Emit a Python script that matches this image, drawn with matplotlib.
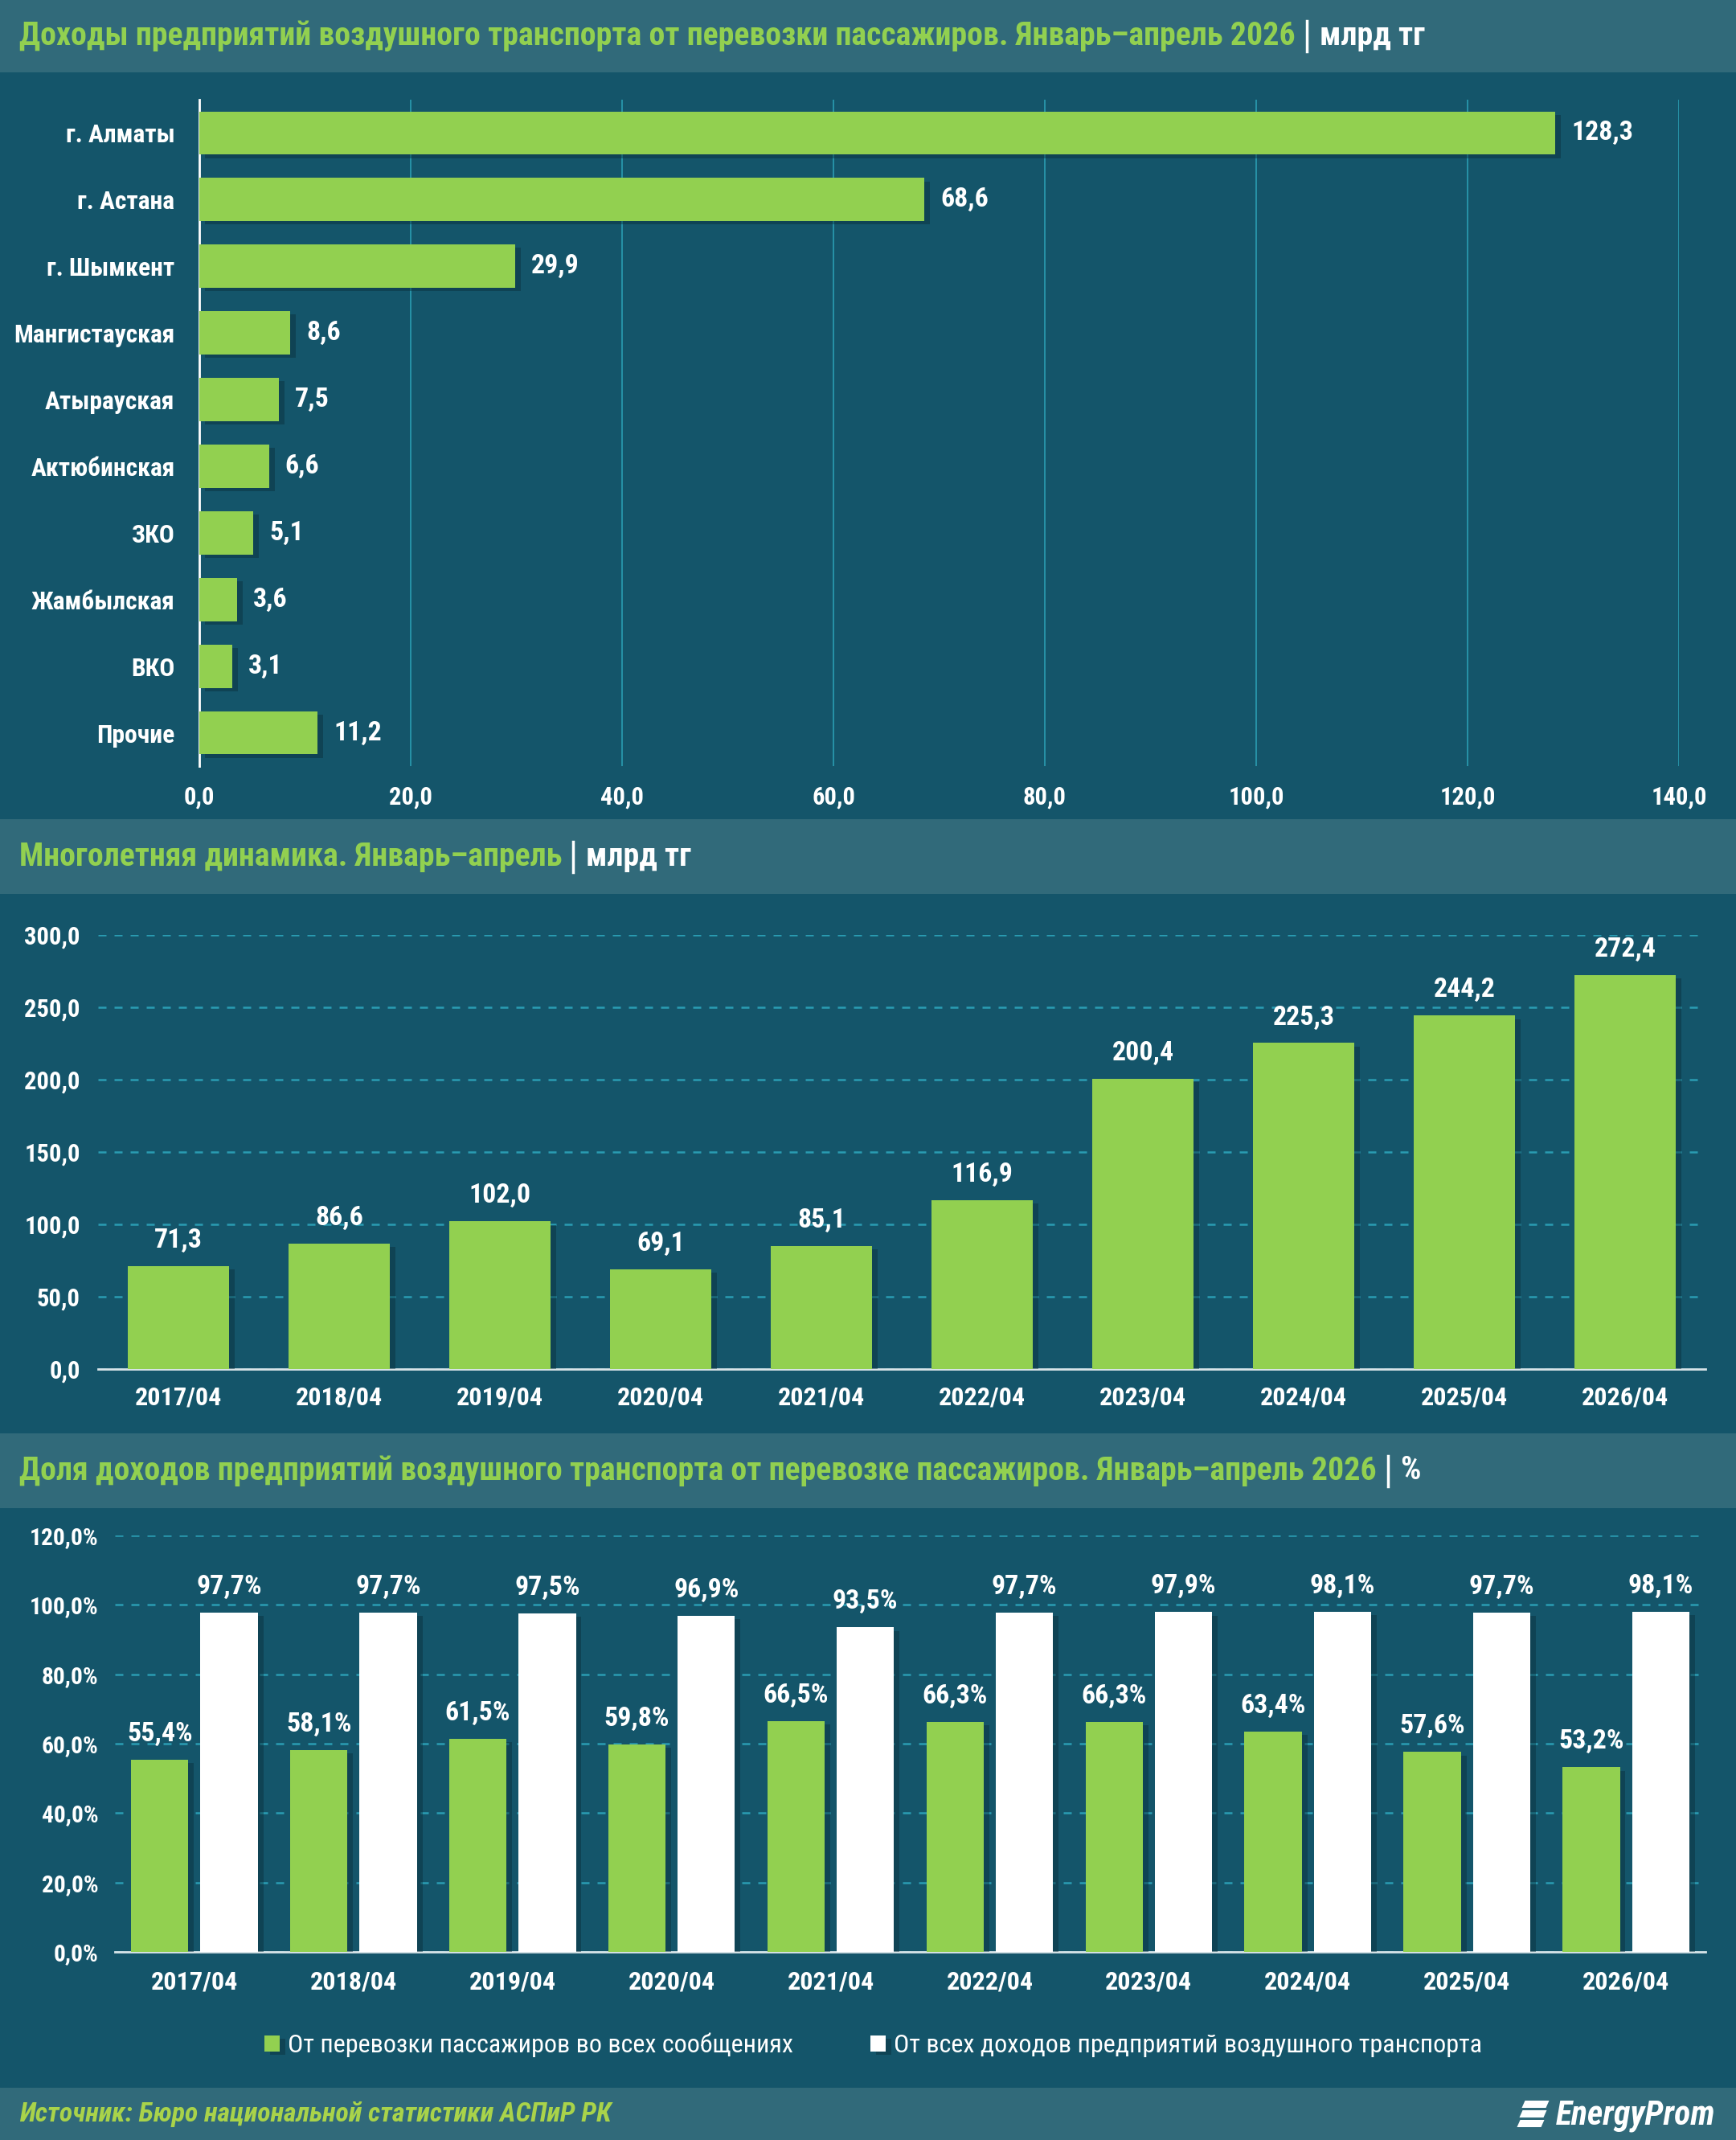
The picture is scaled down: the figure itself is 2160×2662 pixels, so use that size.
import numpy as np
import matplotlib
matplotlib.use('Agg')
import matplotlib.pyplot as plt
import matplotlib.patheffects as pe
from matplotlib import font_manager
from matplotlib.patches import Rectangle, Polygon

# pick a narrow face if one is installed
names = {f.name for f in font_manager.fontManager.ttflist}
main = 'DejaVu Sans'
for cand in ['Roboto Condensed', 'Open Sans Condensed', 'DejaVu Sans Condensed',
             'Liberation Sans Narrow', 'Roboto', 'Open Sans']:
    if cand in names:
        main = cand
        break
plt.rcParams['font.family'] = [main, 'DejaVu Sans']

# --- data ---
regions = ['г. Алматы', 'г. Астана', 'г. Шымкент', 'Мангистауская', 'Атырауская',
           'Актюбинская', 'ЗКО', 'Жамбылская', 'ВКО', 'Прочие']
region_income = [128.3, 68.6, 29.9, 8.6, 7.5, 6.6, 5.1, 3.6, 3.1, 11.2]

years = ['2017/04', '2018/04', '2019/04', '2020/04', '2021/04',
         '2022/04', '2023/04', '2024/04', '2025/04', '2026/04']
total_income = [71.3, 86.6, 102.0, 69.1, 85.1, 116.9, 200.4, 225.3, 244.2, 272.4]

share_all_routes = [55.4, 58.1, 61.5, 59.8, 66.5, 66.3, 66.3, 63.4, 57.6, 53.2]
share_all_income = [97.7, 97.7, 97.5, 96.9, 93.5, 97.7, 97.9, 98.1, 97.7, 98.1]

titles = ['Доходы предприятий воздушного транспорта от перевозки пассажиров. Январь–апрель 2026',
          'Многолетняя динамика. Январь–апрель',
          'Доля доходов предприятий воздушного транспорта от перевозке пассажиров. Январь–апрель 2026']
units = ['млрд тг', 'млрд тг', '%']

# --- style ---
W, H = 2160, 2662
BG = '#14556a'
HEAD = '#316a7a'
GREEN = '#92d050'
GRID = '#2a9cb2'
WHITE = 'white'
shadow = [pe.SimplePatchShadow(offset=(5, -3), shadow_rgbFace='#0a2f3a', alpha=0.45), pe.Normal()]

fig = plt.figure(figsize=(W / 100, H / 100), dpi=100)
fig.patch.set_facecolor(BG)
renderer = fig.canvas.get_renderer()


def rect(x0, y0, x1, y1):
    # pixel box (top-left origin) -> figure fraction
    return [x0 / W, 1 - y1 / H, (x1 - x0) / W, (y1 - y0) / H]


def fmt(v, suffix=''):
    return '{:.1f}'.format(v).replace('.', ',') + suffix


def fit_size(text, width, weight='bold'):
    p = fig.text(0, 0, text, fontsize=20, fontweight=weight)
    w = p.get_window_extent(renderer).width
    p.remove()
    return 20 * width / w


TS = min(34, fit_size(titles[0], 1588))     # title size
LS = TS * 24 / 26                            # base label size
RS = fit_size('Мангистауская', 200)          # region labels

# header bands
bands = [(0, 90), (1019, 1112), (1783, 1876), (2597, 2662)]
for y0, y1 in bands:
    fig.patches.append(Rectangle((0, 1 - y1 / H), 1, (y1 - y0) / H,
                                 transform=fig.transFigure, facecolor=HEAD,
                                 edgecolor='none', zorder=0))

for (y0, y1), t, u in zip(bands[:3], titles, units):
    yc = 1 - (y0 + y1) / 2 / H
    t1 = fig.text(24 / W, yc, t, color=GREEN, fontsize=TS, fontweight='bold',
                  va='center', ha='left')
    bb = t1.get_window_extent(renderer)
    x = bb.x1 + 14
    fig.add_artist(plt.Line2D([x / W, x / W], [yc - 19 / H, yc + 19 / H],
                              color=WHITE, lw=2.5, transform=fig.transFigure))
    fig.text((x + 16) / W, yc, u, color=WHITE, fontsize=TS, fontweight='bold',
             va='center', ha='left')

# --- panel 1: horizontal bars ---
ax1 = fig.add_axes(rect(248, 124, 2089, 953))
ax1.set_facecolor('none')
y = np.arange(len(regions))
bars = ax1.barh(y, region_income, height=0.65, color=GREEN, zorder=3)
for b in bars:
    b.set_path_effects(shadow)
ax1.set_ylim(len(regions) - 0.5, -0.5)
ax1.set_xlim(0, 140)
ax1.set_xticks(np.arange(0, 141, 20))
ax1.set_xticklabels([fmt(v) for v in np.arange(0, 141, 20)])
ax1.set_yticks(y)
ax1.set_yticklabels(regions)
ax1.grid(axis='x', color=GRID, lw=1.2, zorder=0)
for s in ['top', 'right', 'bottom']:
    ax1.spines[s].set_visible(False)
ax1.spines['left'].set_color(WHITE)
ax1.spines['left'].set_linewidth(2)
ax1.tick_params(axis='both', length=0, colors=WHITE)
ax1.tick_params(axis='x', pad=17, labelsize=LS * 0.83)
ax1.tick_params(axis='y', pad=22, labelsize=RS)
for lab in ax1.get_xticklabels() + ax1.get_yticklabels():
    lab.set_fontweight('bold')
for yi, v in zip(y, region_income):
    ax1.annotate(fmt(v), (v, yi), xytext=(20, 0), textcoords='offset pixels',
                 color=WHITE, fontsize=LS * 0.92, fontweight='bold', va='center', ha='left')

# --- panel 2: yearly totals ---
ax2 = fig.add_axes(rect(122, 1163, 2122, 1703))
ax2.set_facecolor('none')
x = np.arange(len(years))
bars = ax2.bar(x, total_income, width=0.63, color=GREEN, zorder=3)
for b in bars:
    b.set_path_effects(shadow)
ax2.set_xlim(-0.5, len(years) - 0.5)
ax2.set_ylim(0, 300)
ax2.set_yticks(np.arange(0, 301, 50))
ax2.set_yticklabels([fmt(v) for v in np.arange(0, 301, 50)])
ax2.set_xticks(x)
ax2.set_xticklabels(years)
ax2.grid(axis='y', color=GRID, lw=1.8, ls=(0, (4, 4)), zorder=0)
for s in ['top', 'right', 'left']:
    ax2.spines[s].set_visible(False)
ax2.spines['bottom'].set_color('#d8e4e8')
ax2.spines['bottom'].set_linewidth(2)
ax2.tick_params(axis='both', length=0, colors=WHITE)
ax2.tick_params(axis='x', pad=15, labelsize=LS * 0.87)
ax2.tick_params(axis='y', pad=16, labelsize=LS * 0.83)
for lab in ax2.get_xticklabels() + ax2.get_yticklabels():
    lab.set_fontweight('bold')
for xi, v in zip(x, total_income):
    ax2.annotate(fmt(v), (xi, v), xytext=(0, 16), textcoords='offset pixels',
                 color=WHITE, fontsize=LS * 0.92, fontweight='bold', va='bottom', ha='center')

# --- panel 3: shares ---
ax3 = fig.add_axes(rect(143, 1910, 2122, 2428))
ax3.set_facecolor('none')
bw = 0.36
off = 0.218
b1 = ax3.bar(x - off, share_all_routes, width=bw, color=GREEN, zorder=3,
             label='От перевозки пассажиров во всех сообщениях')
b2 = ax3.bar(x + off, share_all_income, width=bw, color=WHITE, zorder=3,
             label='От всех доходов предприятий воздушного транспорта')
for b in list(b1) + list(b2):
    b.set_path_effects(shadow)
ax3.set_xlim(-0.5, len(years) - 0.5)
ax3.set_ylim(0, 120)
ax3.set_yticks(np.arange(0, 121, 20))
ax3.set_yticklabels([fmt(v, '%') for v in np.arange(0, 121, 20)])
ax3.set_xticks(x)
ax3.set_xticklabels(years)
ax3.grid(axis='y', color=GRID, lw=1.8, ls=(0, (4, 4)), zorder=0)
for s in ['top', 'right', 'left']:
    ax3.spines[s].set_visible(False)
ax3.spines['bottom'].set_color('#d8e4e8')
ax3.spines['bottom'].set_linewidth(2)
ax3.tick_params(axis='both', length=0, colors=WHITE)
ax3.tick_params(axis='x', pad=16, labelsize=LS * 0.87)
ax3.tick_params(axis='y', pad=15, labelsize=LS * 0.8)
for lab in ax3.get_xticklabels() + ax3.get_yticklabels():
    lab.set_fontweight('bold')
for xi, v in zip(x, share_all_routes):
    ax3.annotate(fmt(v, '%'), (xi - off, v), xytext=(0, 16), textcoords='offset pixels',
                 color=WHITE, fontsize=LS * 0.92, fontweight='bold', va='bottom', ha='center')
for xi, v in zip(x, share_all_income):
    ax3.annotate(fmt(v, '%'), (xi + off, v), xytext=(0, 16), textcoords='offset pixels',
                 color=WHITE, fontsize=LS * 0.92, fontweight='bold', va='bottom', ha='center')

leg = fig.legend(loc='center', bbox_to_anchor=(0.503, 1 - 2544 / H), ncol=2,
                 frameon=False, fontsize=LS * 0.87, handlelength=0.6, handleheight=0.6,
                 handletextpad=0.3, columnspacing=3)
for t in leg.get_texts():
    t.set_color(WHITE)

# --- footer ---
fig.text(24 / W, 1 - 2630 / H, 'Источник: Бюро национальной статистики АСПиР РК',
         color='#a9d34a', fontsize=LS * 0.92, style='italic', fontweight='bold',
         va='center', ha='left')
logo = fig.text(2134 / W, 1 - 2632 / H, 'EnergyProm', color=WHITE, fontsize=TS * 1.05,
                style='italic', fontweight='bold', va='center', ha='right')
lx = logo.get_window_extent(renderer).x0 - 8
for i in range(3):
    yb = 2613 + i * 12
    xs = np.array([lx - 30, lx, lx - 4, lx - 34]) - i * 3
    ys = np.array([yb, yb, yb + 9, yb + 9])
    fig.patches.append(Polygon(np.column_stack([xs / W, 1 - ys / H]), closed=True,
                               transform=fig.transFigure, facecolor=WHITE,
                               edgecolor='none'))

fig.savefig('out.png', dpi=100, facecolor=BG)
